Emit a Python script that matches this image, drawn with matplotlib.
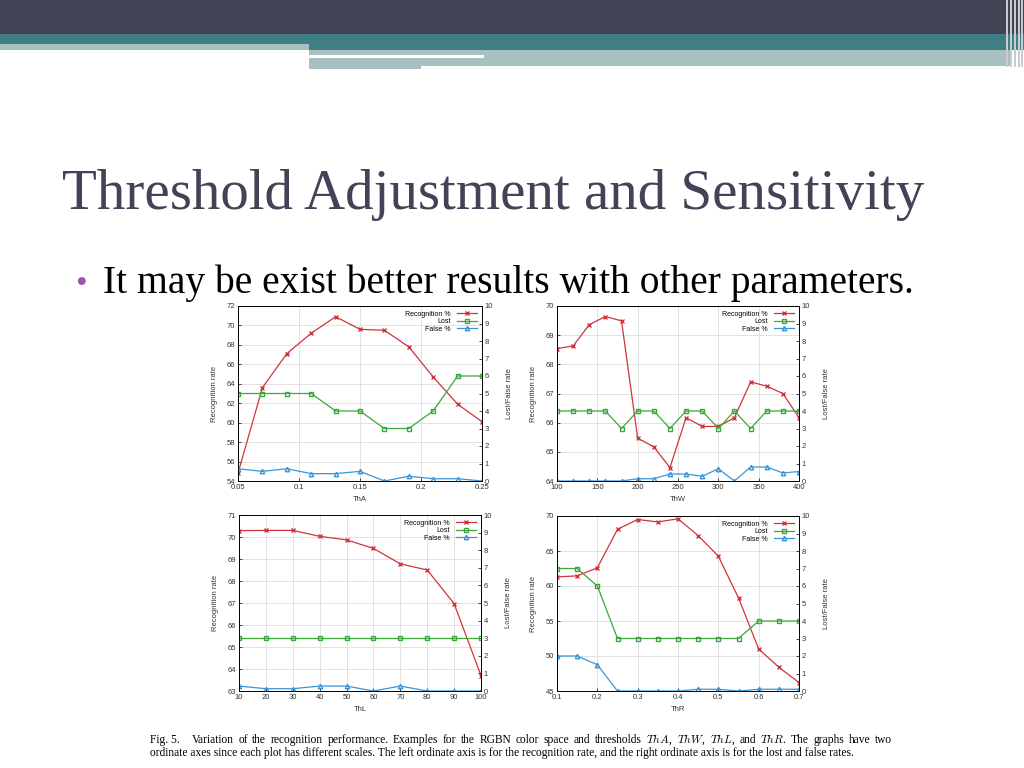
import matplotlib

matplotlib.use("Agg")
import matplotlib.pyplot as plt
from matplotlib.patches import Rectangle
from matplotlib.ticker import FormatStrFormatter

# --- data ---
tha_x = [0.05, 0.07, 0.09, 0.11, 0.13, 0.15, 0.17, 0.19, 0.21, 0.23, 0.25]
tha_rec = [54.8, 63.6, 67.1, 69.2, 70.9, 69.6, 69.5, 67.8, 64.7, 61.9, 60.1]
tha_lost = [5, 5, 5, 5, 4, 4, 3, 3, 4, 6, 6]
tha_false = [0.7, 0.55, 0.7, 0.42, 0.42, 0.55, 0.0, 0.27, 0.13, 0.13, 0.0]

thw_x = [100, 120, 140, 160, 180, 200, 220, 240, 260, 280, 300, 320, 340, 360, 380, 400]
thw_rec = [68.54, 68.63, 69.36, 69.64, 69.49, 65.47, 65.17, 64.46,
           66.17, 65.87, 65.87, 66.17, 67.4, 67.25, 67.0, 66.17]
thw_lost = [4, 4, 4, 4, 3, 4, 4, 3, 4, 4, 3, 4, 3, 4, 4, 4]
thw_false = [0, 0, 0, 0, 0, 0.13, 0.13, 0.4, 0.4, 0.27, 0.7, 0, 0.8, 0.8, 0.46, 0.54]

thl_x = [10, 20, 30, 40, 50, 60, 70, 80, 90, 100]
thl_rec = [70.29, 70.3, 70.3, 70.03, 69.87, 69.48, 68.78, 68.5, 66.97, 63.7]
thl_lost = [3, 3, 3, 3, 3, 3, 3, 3, 3, 3]
thl_false = [0.28, 0.13, 0.13, 0.28, 0.28, 0, 0.28, 0, 0, 0]

thr_x = [0.1, 0.15, 0.2, 0.25, 0.3, 0.35, 0.4, 0.45, 0.5, 0.55, 0.6, 0.65, 0.7]
thr_rec = [61.3, 61.45, 62.6, 68.1, 69.5, 69.15, 69.6, 67.2, 64.25, 58.3, 51.0, 48.4, 46.2]
thr_lost = [7, 7, 6, 3, 3, 3, 3, 3, 3, 3, 4, 4, 4]
thr_false = [2, 2, 1.5, 0, 0, 0, 0, 0.1, 0.1, 0, 0.1, 0.1, 0.1]

W, H = 1024, 768
RED = "#d0343a"
GREEN = "#3aa83a"
BLUE = "#3a96d8"
TEAL = "#3f7f83"
LIGHT = "#a9c0c3"
DARK = "#434356"

plt.rcParams["mathtext.fontset"] = "cm"


def px_box(x0, y0, x1, y1):
    """pixel box (top-left origin) -> figure-fraction rect"""
    return [x0 / W, 1 - y1 / H, (x1 - x0) / W, (y1 - y0) / H]


fig = plt.figure(figsize=(W / 100, H / 100), dpi=100)
fig.patch.set_facecolor("white")

# --- slide header bands ---
for (x0, y0, x1, y1, c) in [
    (0, 0, 1024, 34, DARK),
    (0, 34, 1024, 44, TEAL),
    (0, 44, 309, 50, LIGHT),
    (309, 44, 1024, 50, TEAL),
    (309, 50, 1012, 66, LIGHT),
    (309, 55, 484, 58, "white"),
    (309, 66, 421, 69, LIGHT),
]:
    b = px_box(x0, y0, x1, y1)
    fig.patches.append(Rectangle((b[0], b[1]), b[2], b[3], transform=fig.transFigure,
                                 facecolor=c, edgecolor="none", zorder=0))
for xs in [1006, 1010, 1014, 1018, 1021]:
    b = px_box(xs, 0, xs + 1.5, 67)
    fig.patches.append(Rectangle((b[0], b[1]), b[2], b[3], transform=fig.transFigure,
                                 facecolor="#c8ccd0", edgecolor="none", zorder=1))

fig.text(62 / W, 1 - 209 / H, "Threshold Adjustment and Sensitivity",
         family="Liberation Serif", fontsize=41, color="#434358", va="baseline")
fig.text(75 / W, 1 - 293 / H, "\u2022", family="Liberation Serif", fontsize=24,
         color="#a055b5", va="baseline")
fig.text(103 / W, 1 - 293 / H, "It may be exist better results with other parameters.",
         family="Liberation Serif", fontsize=28.5, color="black", va="baseline")

# --- caption: first line justified like in the paper ---
cap1 = ["Fig. 5.", "Variation", "of", "the", "recognition", "performance.", "Examples", "for",
        "the", "RGBN", "color", "space", "and", "thresholds", "$ThA$,", "$ThW$,", "$ThL$,",
        "and", "$ThR$.", "The", "graphs", "have", "two"]
cap2 = ("ordinate axes since each plot has different scales. The left ordinate axis is for the "
        "recognition rate, and the right ordinate axis is for the lost and false rates.")
CAP_FS = 8.3
renderer = fig.canvas.get_renderer()
words = [fig.text(0, 1 - 743 / H, w, family="Liberation Serif", fontsize=CAP_FS, va="baseline")
         for w in cap1]
widths = [t.get_window_extent(renderer).width for t in words]
x_left, x_right, first_gap = 150.0, 892.0, 12.0
gap = (x_right - x_left - sum(widths) - first_gap) / (len(words) - 2)
xpos = x_left
for i, (t, wdt) in enumerate(zip(words, widths)):
    t.set_x(xpos / W)
    xpos += wdt + (first_gap if i == 0 else gap)
fig.text(150 / W, 1 - 756 / H, cap2, family="Liberation Serif", fontsize=CAP_FS, va="baseline")

FS = 5.5


def panel(rect, x, rec, lost, false, xlabel, xlim, xticks, ylim, yticks):
    ax = fig.add_axes(px_box(*rect))
    ax2 = ax.twinx()
    l1, = ax.plot(x, rec, color=RED, marker="x", markersize=3.2, linewidth=0.9,
                  label="Recognition %")
    l2, = ax2.plot(x, lost, color=GREEN, marker="s", markersize=3.2, markerfacecolor="none",
                   linewidth=0.9, label="Lost")
    l3, = ax2.plot(x, false, color=BLUE, marker="^", markersize=3.2, markerfacecolor="none",
                   linewidth=0.9, label="False %")
    ax.set_xlim(*xlim)
    ax.set_xticks(xticks)
    ax.xaxis.set_major_formatter(FormatStrFormatter("%g"))
    ax.set_ylim(*ylim)
    ax.set_yticks(yticks)
    ax2.set_ylim(0, 10)
    ax2.set_yticks(range(0, 11))
    ax.grid(True, color="#dddddd", linewidth=0.6)
    ax.set_axisbelow(True)
    for a in (ax, ax2):
        a.tick_params(direction="in", labelsize=FS, length=2, width=0.5, pad=2,
                      labelfontfamily="Liberation Sans", labelcolor="#333333")
        for s in a.spines.values():
            s.set_linewidth(0.6)
    ax.set_xlabel(xlabel, fontsize=FS, family="Liberation Sans", labelpad=4, color="#333333")
    ax.set_ylabel("Recognition rate", fontsize=FS, family="Liberation Sans", labelpad=6,
                  color="#333333")
    ax2.set_ylabel("Lost/False rate", fontsize=FS, family="Liberation Sans", labelpad=9,
                   color="#333333")
    ax2.legend(handles=[l1, l2, l3], loc="upper right", frameon=False,
               markerfirst=False, handlelength=3, labelspacing=0.1,
               borderaxespad=0.25, prop={"family": "Liberation Sans", "size": 5})
    return ax


panel((238, 306, 482, 481), tha_x, tha_rec, tha_lost, tha_false, "ThA",
      (0.05, 0.25), [0.05, 0.1, 0.15, 0.2, 0.25], (54, 72), range(54, 73, 2))
panel((557, 306, 799, 481), thw_x, thw_rec, thw_lost, thw_false, "ThW",
      (100, 400), range(100, 401, 50), (64, 70), range(64, 71))
panel((239, 515, 481, 691), thl_x, thl_rec, thl_lost, thl_false, "ThL",
      (10, 100), range(10, 101, 10), (63, 71), range(63, 72))
panel((557, 516, 799, 691), thr_x, thr_rec, thr_lost, thr_false, "ThR",
      (0.1, 0.7), [0.1, 0.2, 0.3, 0.4, 0.5, 0.6, 0.7], (45, 70), range(45, 71, 5))

plt.savefig("out.png", dpi=100)
